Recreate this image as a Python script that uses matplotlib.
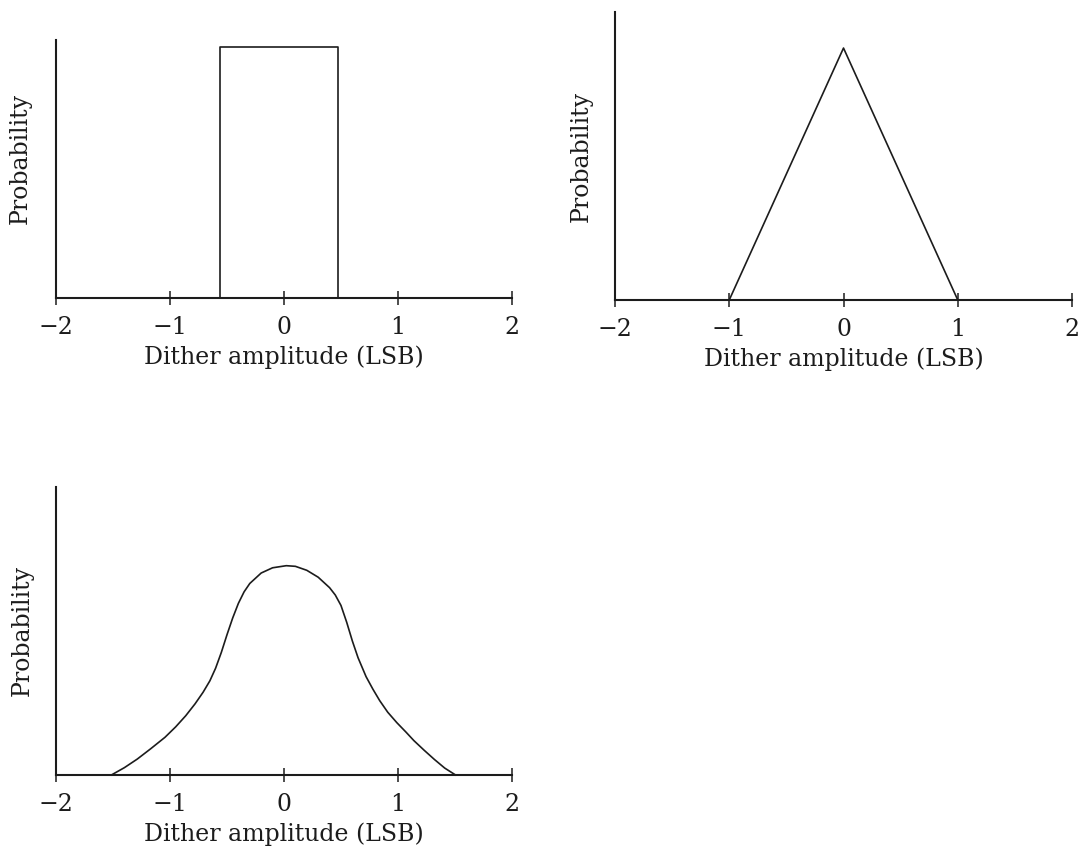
import matplotlib
matplotlib.use('Agg')
import matplotlib.pyplot as plt

# ======================
# VARIABLES
# ======================

plt.rcParams['font.family'] = ['DejaVu Serif']
plt.rcParams['font.size'] = 17
plt.rcParams['axes.unicode_minus'] = True

ink = '#1c1c1c'

x_ticks = [-2, -1, 0, 1, 2]

# Rectangular dither pdf
rect_x = [-2.0, -0.56, -0.56, 0.47, 0.47, 2.0]
rect_p = [0.0, 0.0, 1.0, 1.0, 0.0, 0.0]

# Triangular dither pdf
tri_x = [-2.0, -1.0, 0.0, 1.0, 2.0]
tri_p = [0.0, 0.0, 1.0, 0.0, 0.0]

# Gaussian-like dither pdf (relative to peak)
gauss_x = [-1.514, -1.40, -1.287, -1.17, -1.044, -0.95, -0.862, -0.78,
           -0.710, -0.65, -0.60, -0.55, -0.50, -0.45, -0.40, -0.35,
           -0.30, -0.20, -0.10, 0.02, 0.10, 0.20, 0.30, 0.40, 0.45,
           0.50, 0.55, 0.60, 0.65, 0.72, 0.78, 0.84, 0.91, 0.99,
           1.07, 1.14, 1.23, 1.32, 1.41, 1.505]
gauss_p = [0.0, 0.035, 0.076, 0.125, 0.180, 0.230, 0.283, 0.340,
           0.395, 0.450, 0.510, 0.585, 0.670, 0.750, 0.820, 0.875,
           0.915, 0.965, 0.990, 1.0, 0.997, 0.978, 0.945, 0.895, 0.860,
           0.810, 0.730, 0.640, 0.560, 0.470, 0.410, 0.355, 0.300, 0.250,
           0.205, 0.164, 0.118, 0.074, 0.033, 0.0]

# ======================
# FUNCTIONS
# ======================

def style_axes(ax, ytop, label_x, label_y):
    ax.set_xlim(-2, 2)
    ax.set_ylim(0, ytop)
    for side in ('top', 'right'):
        ax.spines[side].set_visible(False)
    for side in ('left', 'bottom'):
        ax.spines[side].set_linewidth(1.5)
        ax.spines[side].set_color(ink)
    ax.set_yticks([])
    ax.set_xticks(x_ticks)
    ax.tick_params(axis='x', direction='inout', length=9.5, width=1.1,
                   colors=ink, pad=8)
    ax.set_xlabel('Dither amplitude (LSB)', color=ink, labelpad=5)
    ax.set_ylabel('Probability', color=ink)
    ax.yaxis.set_label_coords(label_x, label_y)


def generate_graph():
    fig = plt.figure(figsize=(10.81, 8.52), dpi=100)

    ax1 = fig.add_axes([0.0518, 0.6502, 0.4218, 0.3028])
    ax1.plot(rect_x, rect_p, color=ink, linewidth=1.2, clip_on=False)
    style_axes(ax1, 1.028, -0.053, 0.54)

    ax2 = fig.add_axes([0.5689, 0.6479, 0.4228, 0.338])
    ax2.plot(tri_x, tri_p, color=ink, linewidth=1.2, clip_on=False)
    style_axes(ax2, 1.143, -0.048, 0.50)

    ax3 = fig.add_axes([0.0518, 0.0904, 0.4218, 0.338])
    ax3.plot(gauss_x, gauss_p, color=ink, linewidth=1.2, clip_on=False)
    style_axes(ax3, 1.376, -0.048, 0.503)

    fig.savefig('out.png', dpi=100, facecolor='white')

# ======================
# MAIN
# ======================

if __name__ == '__main__':
    generate_graph()
